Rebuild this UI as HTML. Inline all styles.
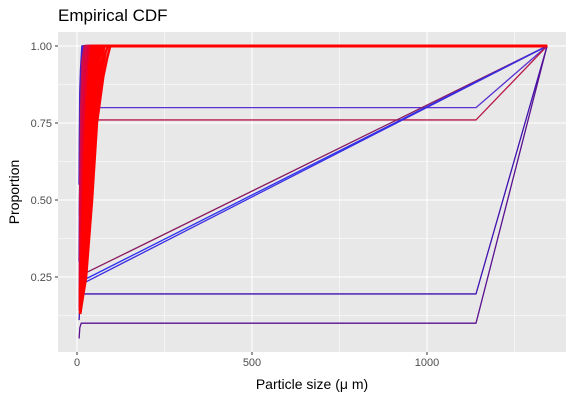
<!DOCTYPE html>
<html><head><meta charset="utf-8"><style>
body{margin:0;background:#fff;}
svg{display:block;font-family:"Liberation Sans",sans-serif;}
</style></head><body>
<svg id="chart" width="578" height="403">
<text x="58" y="21" font-size="17" fill="#000">Empirical CDF</text>
<rect x="58" y="32" width="508" height="320" fill="#e8e8e8"/>
<g id="grid"></g><g id="series"></g><g id="axes"></g>
<text x="312" y="389" font-size="14" text-anchor="middle" fill="#000">Particle size (μ m)</text>
<text transform="translate(19,192) rotate(-90)" font-size="14" text-anchor="middle" fill="#000">Proportion</text>
</svg>
<script>
const xTicks=[0,500,1000];
const xMinor=[250,750,1250];
const yTicks=[0.25,0.5,0.75,1.0];
const yMinor=[0.125,0.375,0.625,0.875];
const yLabels=["0.25","0.50","0.75","1.00"];
// bluish bundle curves (drawn first, underneath)
const blueBundle=[
 [[6,0.55],[8,0.85],[10,0.92],[14,1],[1343,1]],
 [[7,0.45],[10,0.8],[13,0.95],[18,1],[1343,1]],
 [[6,0.3],[9,0.7],[12,0.9],[16,1],[1343,1]]
];
const blueColors=["#4a20c8","#6a18a0","#3a28d8"];
// red bundle curves: [x, proportion] points
const bundle=[
 [[8,0.15],[9,0.5],[12,0.8],[16,0.95],[22,1],[1343,1]],
 [[8,0.14],[10,0.45],[14,0.75],[20,0.93],[27,1],[1343,1]],
 [[8,0.14],[12,0.4],[17,0.7],[24,0.9],[32,1],[1343,1]],
 [[9,0.14],[13,0.38],[19,0.65],[28,0.88],[37,1],[1343,1]],
 [[9,0.13],[15,0.35],[22,0.6],[32,0.85],[42,1],[1343,1]],
 [[9,0.13],[16,0.35],[25,0.6],[36,0.85],[47,1],[1343,1]],
 [[9,0.14],[18,0.35],[28,0.6],[40,0.85],[52,1],[1343,1]],
 [[9,0.13],[19,0.32],[30,0.57],[43,0.82],[57,1],[1343,1]],
 [[9,0.13],[21,0.3],[33,0.55],[46,0.8],[62,1],[1343,1]],
 [[9,0.13],[22,0.29],[35,0.52],[48,0.77],[65,0.96],[72,1],[1343,1]],
 [[9,0.13],[23,0.28],[37,0.5],[50,0.75],[68,0.93],[78,1],[1343,1]],
 [[9,0.13],[25,0.26],[40,0.5],[54,0.75],[72,0.92],[82,0.98],[88,1],[1343,1]],
 [[9,0.13],[26,0.25],[43,0.5],[57,0.75],[75,0.9],[86,0.96],[95,1],[1343,1]],
 [[9,0.16],[16,0.45],[25,0.75],[36,0.94],[46,1],[1343,1]],
 [[9,0.2],[20,0.45],[32,0.72],[46,0.92],[58,1],[1343,1]],
 [[9,0.18],[24,0.42],[38,0.7],[54,0.9],[68,1],[1343,1]]
];
const bundleColors=["#c8104a","#d80840","#e0003a","#f00020","#ff0000","#ff0000","#ff0000","#ff0000","#ff0000","#ff0000","#ff0000","#ff0000","#ff0000","#ff0000","#ff0000","#ff0000"];
const special=[
 [[6,0.55],[8,0.82],[12,0.8],[1140,0.8],[1343,1]],
 [[9,0.7],[12,0.76],[1140,0.76],[1343,1]],
 [[10,0.255],[1343,1]],
 [[10,0.235],[1343,1]],
 [[10,0.225],[1343,1]],
 [[6,0.11],[8,0.16],[12,0.18],[16,0.195],[1140,0.195],[1343,1]],
 [[6,0.05],[8,0.085],[12,0.1],[1140,0.1],[1343,1]]
];
const specialColors=["#5a30d0","#b81848","#8a1a60","#2a30f0","#3a2ae0","#4010b0","#5a1090"];
const X=v=>77+v*0.35, Y=v=>354-v*308;
const ns="http://www.w3.org/2000/svg";
function mk(p,t,a){const e=document.createElementNS(ns,t);for(const k in a)e.setAttribute(k,a[k]);p.appendChild(e);return e;}
const grid=document.getElementById('grid'),ser=document.getElementById('series'),ax=document.getElementById('axes');
xMinor.forEach(v=>{const l=mk(grid,'line',{x1:X(v),x2:X(v),y1:32,y2:352,stroke:'#fff','stroke-width':0.5});

});
yMinor.forEach(v=>{const l=mk(grid,'line',{x1:58,x2:566,y1:Y(v),y2:Y(v),stroke:'#fff','stroke-width':0.5});

});
xTicks.forEach(v=>{const l=mk(grid,'line',{x1:X(v),x2:X(v),y1:32,y2:352,stroke:'#fff','stroke-width':1.1});


const t=mk(ax,'line',{x1:X(v),x2:X(v),y1:352,y2:355,stroke:'#333'});


const tx=mk(ax,'text',{x:X(v),y:366,'font-size':11,'text-anchor':'middle',fill:'#4d4d4d'});tx.textContent=v;

});
yTicks.forEach((v,i)=>{const l=mk(grid,'line',{x1:58,x2:566,y1:Y(v),y2:Y(v),stroke:'#fff','stroke-width':1.1});


const t=mk(ax,'line',{x1:55,x2:58,y1:Y(v),y2:Y(v),stroke:'#333'});


const tx=mk(ax,'text',{x:52,y:Y(v)+4,'font-size':11,'text-anchor':'end',fill:'#4d4d4d'});tx.textContent=yLabels[i];

});
function draw(pts,c,name,w){const p=mk(ser,'polyline',{points:pts.map(q=>X(q[0])+','+Y(q[1])).join(' '),fill:'none',stroke:c,'stroke-width':w,'stroke-linejoin':'round'});

}
special.forEach((s,i)=>draw(s,specialColors[i],'ecdf-line-outlier',1.3));
blueBundle.forEach((s,i)=>draw(s,blueColors[i],'ecdf-line-blue',1.5));
bundle.forEach((s,i)=>draw(s,bundleColors[i],'ecdf-line',2.5));
</script>
</body></html>
